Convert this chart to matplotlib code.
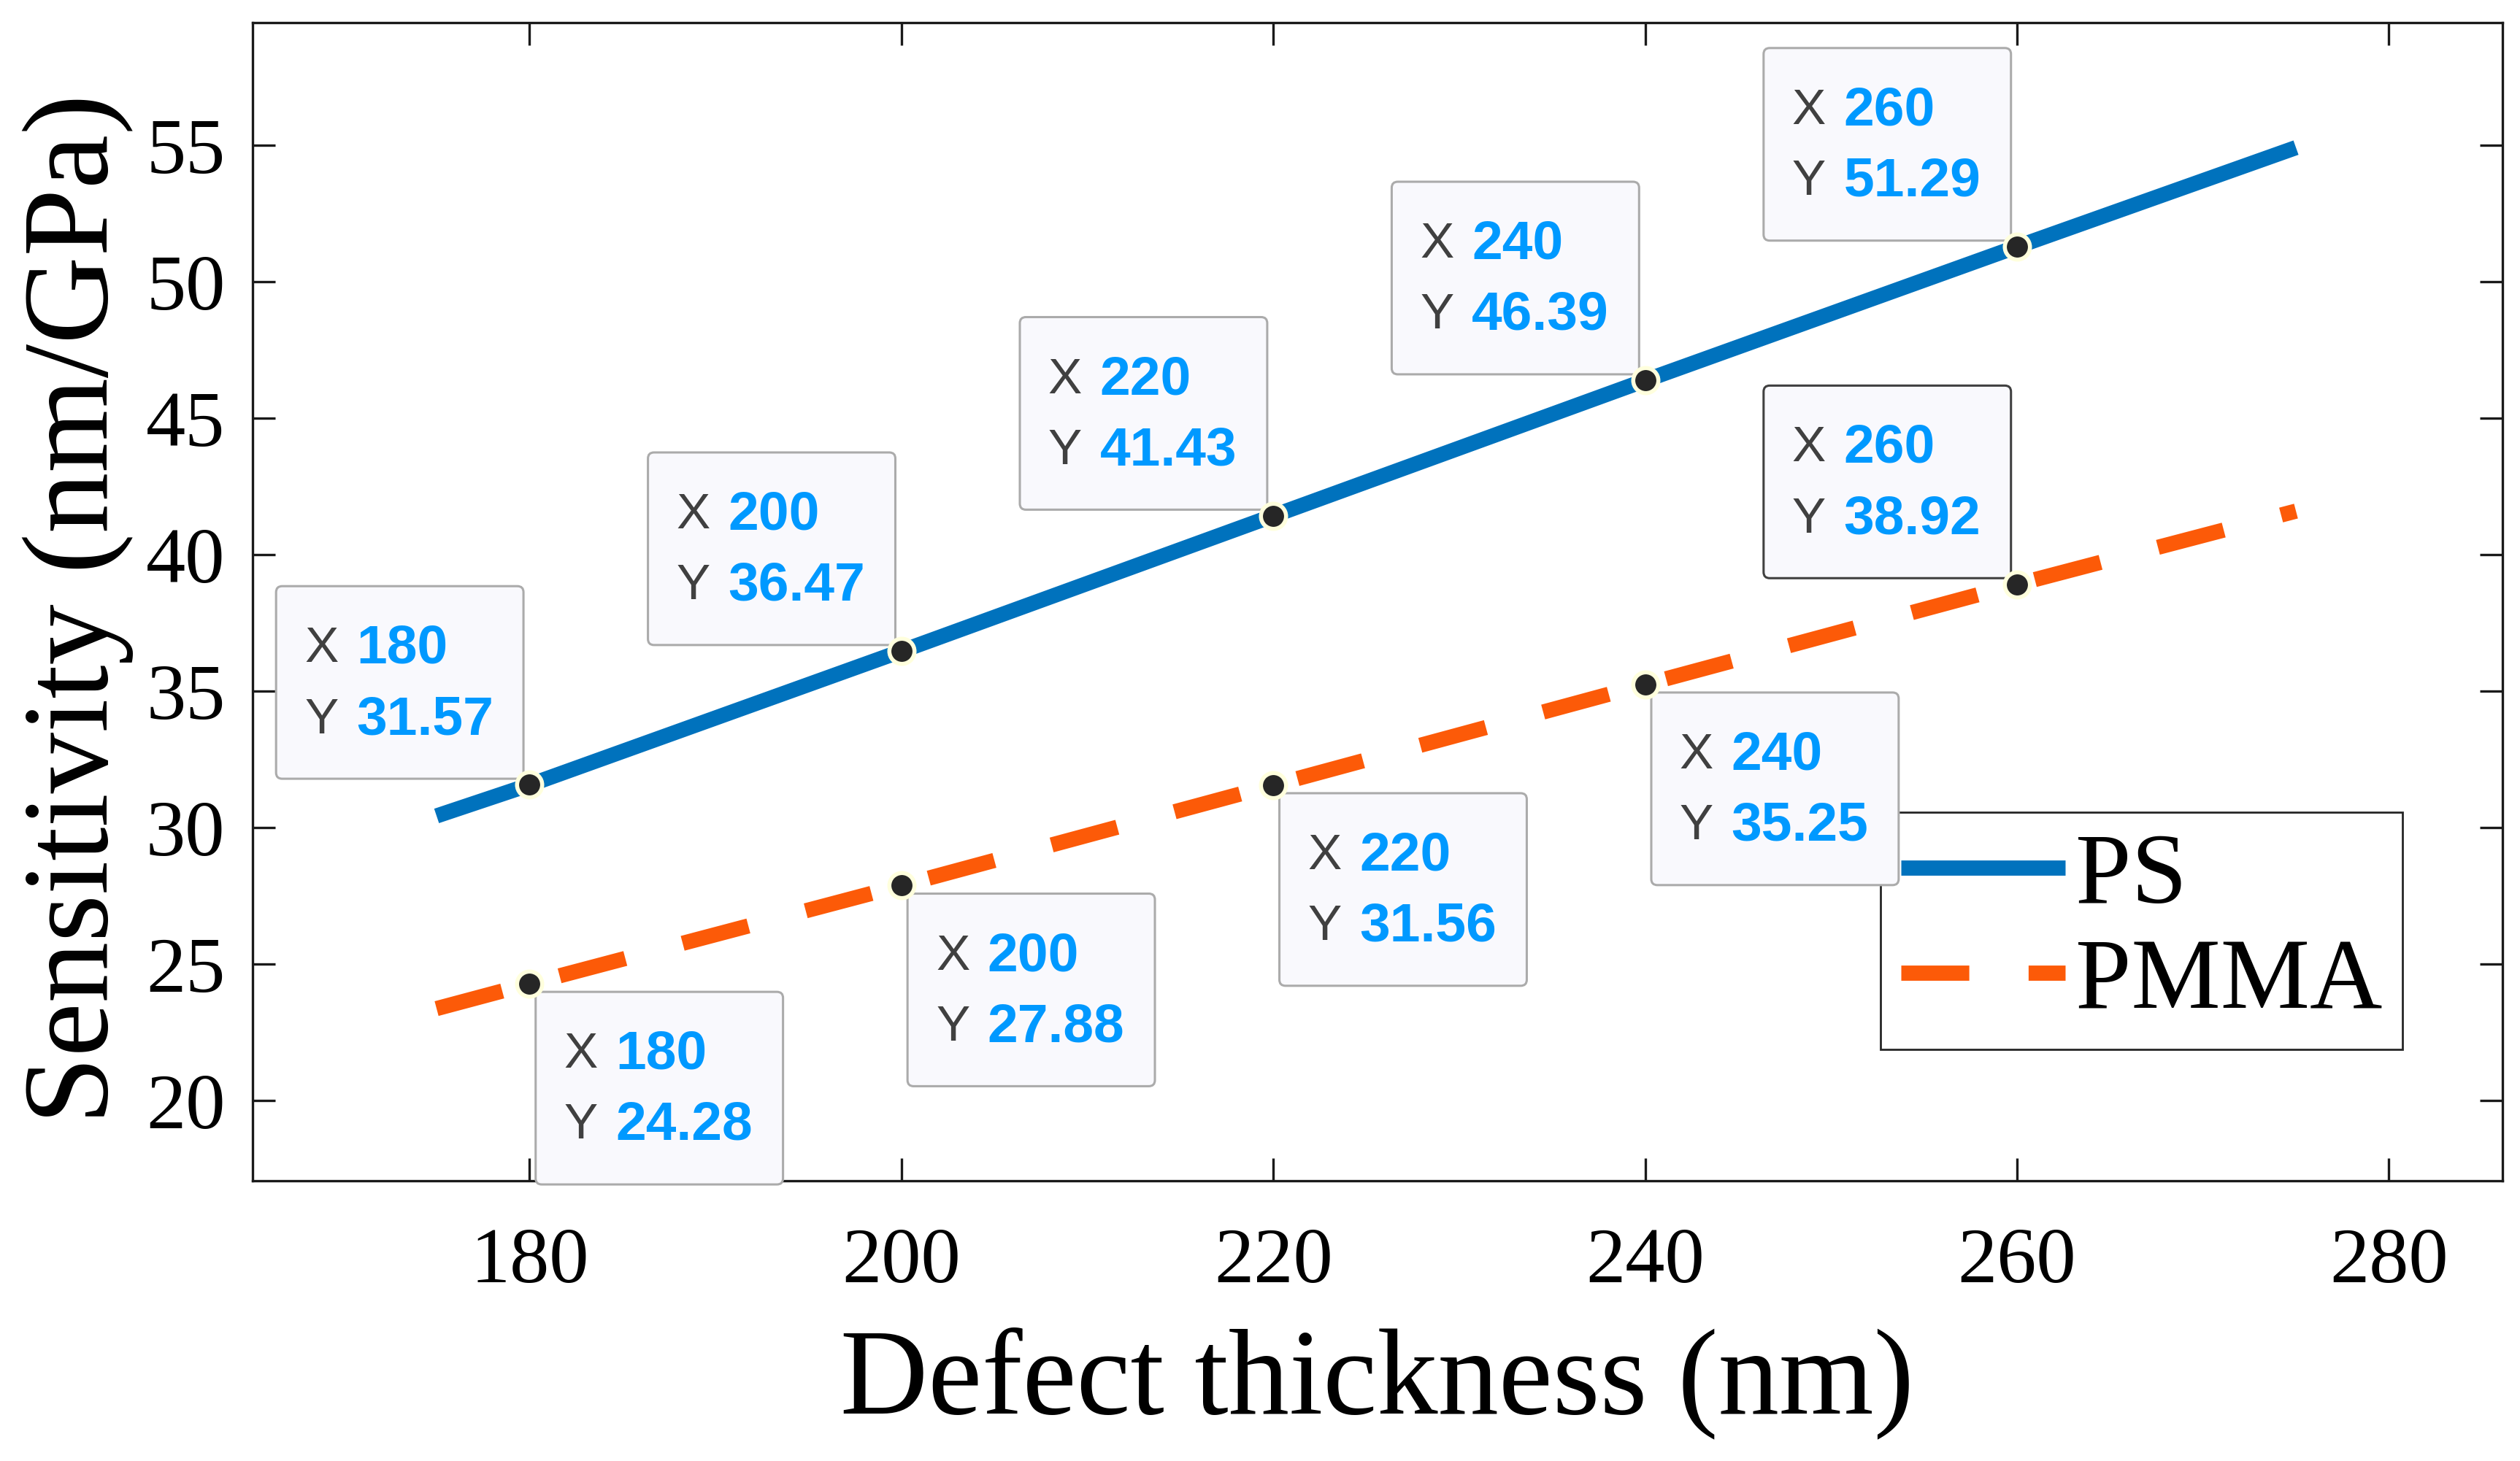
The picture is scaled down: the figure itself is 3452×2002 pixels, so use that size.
import numpy as np
import matplotlib
matplotlib.use("Agg")
import matplotlib.pyplot as plt
import matplotlib.transforms as mtransforms
from matplotlib.patches import FancyBboxPatch

# data
thickness = [175, 180, 200, 220, 240, 260, 275]
ps = [30.43, 31.57, 36.47, 41.43, 46.39, 51.29, 54.92]
pmma = [23.37, 24.28, 27.88, 31.56, 35.25, 38.92, 41.6]

tip_x = [180, 200, 220, 240, 260]
tip_ps = [31.57, 36.47, 41.43, 46.39, 51.29]
tip_pmma = [24.28, 27.88, 31.56, 35.25, 38.92]

xticks = [180, 200, 220, 240, 260, 280]
yticks = [20, 25, 30, 35, 40, 45, 50, 55]

SERIF = "Liberation Serif"
SANS = "Liberation Sans"
C_PS = "#0072BD"
C_PMMA = "#FC5A08"
AXC = "#1A1A1A"


def datatip(ax, x, y, val, below=False, edge="#ABABAB"):
    fig = ax.figure
    # coordinates in points, origin at the data point
    tr = mtransforms.Affine2D().scale(fig.dpi / 72.0) + \
        mtransforms.ScaledTranslation(x, y, ax.transData)
    w, h = 122, 95
    if below:
        x0, y0 = 3, -4 - h
    else:
        x0, y0 = -3 - w, 3
    box = FancyBboxPatch((x0, y0), w, h, boxstyle="round,pad=0,rounding_size=3",
                         transform=tr, facecolor="#F9F9FD", edgecolor=edge,
                         linewidth=1.1, zorder=7, clip_on=False)
    ax.add_patch(box)
    rows = [("X", "%g" % x, y0 + h - 31), ("Y", "%.2f" % val, y0 + h - 66)]
    for lab, num, yy in rows:
        ax.text(x0 + 14, yy, lab, transform=tr, ha="left", va="center",
                fontsize=25, family=SANS, color="#404040", zorder=8, clip_on=False)
        ax.text(x0 + 39.5, yy, num, transform=tr, ha="left", va="center",
                fontsize=27, family=SANS, fontweight="bold", color="#0099FF",
                zorder=8, clip_on=False)
    ax.plot([x], [y], "o", ms=12.4, mfc="#262626", mec="#FFFFDD", mew=2,
            zorder=9, clip_on=False)


def main():
    fig = plt.figure(figsize=(17.26, 10.01), dpi=200)
    ax = fig.add_axes([0.1002, 0.1918, 0.8928, 0.7927])

    ax.plot(thickness, ps, "-", color=C_PS, lw=7.5, label="PS",
            solid_capstyle="butt", zorder=3)
    ax.plot(thickness, pmma, "--", color=C_PMMA, lw=7.5, label="PMMA",
            dashes=(4.47, 3.9), dash_capstyle="butt", zorder=3)

    ax.set_xlim(165.1, 286.1)
    ax.set_ylim(17.06, 59.5)
    ax.set_xticks(xticks)
    ax.set_yticks(yticks)

    for s in ax.spines.values():
        s.set_color(AXC)
        s.set_linewidth(1.2)
    ax.tick_params(axis="both", which="both", direction="in", top=True, right=True,
                   length=11, width=1.2, color=AXC, labelsize=39, labelcolor="#000000")
    ax.tick_params(axis="x", pad=23)
    ax.tick_params(axis="y", pad=13.5)
    for t in ax.get_xticklabels() + ax.get_yticklabels():
        t.set_family(SERIF)

    ax.set_xlabel("Defect thickness (nm)", fontsize=60, family=SERIF, va="baseline")
    ax.xaxis.set_label_coords(0.5, -0.2004)
    ax.set_ylabel("Sensitivity (nm/GPa)", fontsize=60, family=SERIF, va="baseline")
    ax.yaxis.set_label_coords(-0.0645, 0.494)

    leg = ax.legend(loc="lower right", bbox_to_anchor=(0.9555, 0.1134),
                    borderaxespad=0, fancybox=False, framealpha=1,
                    edgecolor="#262626", prop={"family": SERIF, "size": 49.5},
                    handlelength=1.64, handletextpad=0.1, labelspacing=0.14,
                    borderpad=0.2)
    leg.get_frame().set_linewidth(1.0)
    leg.set_zorder(5)

    for i, xv in enumerate(tip_x):
        datatip(ax, xv, tip_ps[i], tip_ps[i], below=False)
    for i, xv in enumerate(tip_x):
        if xv == 260:
            datatip(ax, xv, tip_pmma[i], tip_pmma[i], below=False, edge="#404040")
        else:
            datatip(ax, xv, tip_pmma[i], tip_pmma[i], below=True)

    fig.savefig("out.png", dpi=200)


if __name__ == "__main__":
    main()
